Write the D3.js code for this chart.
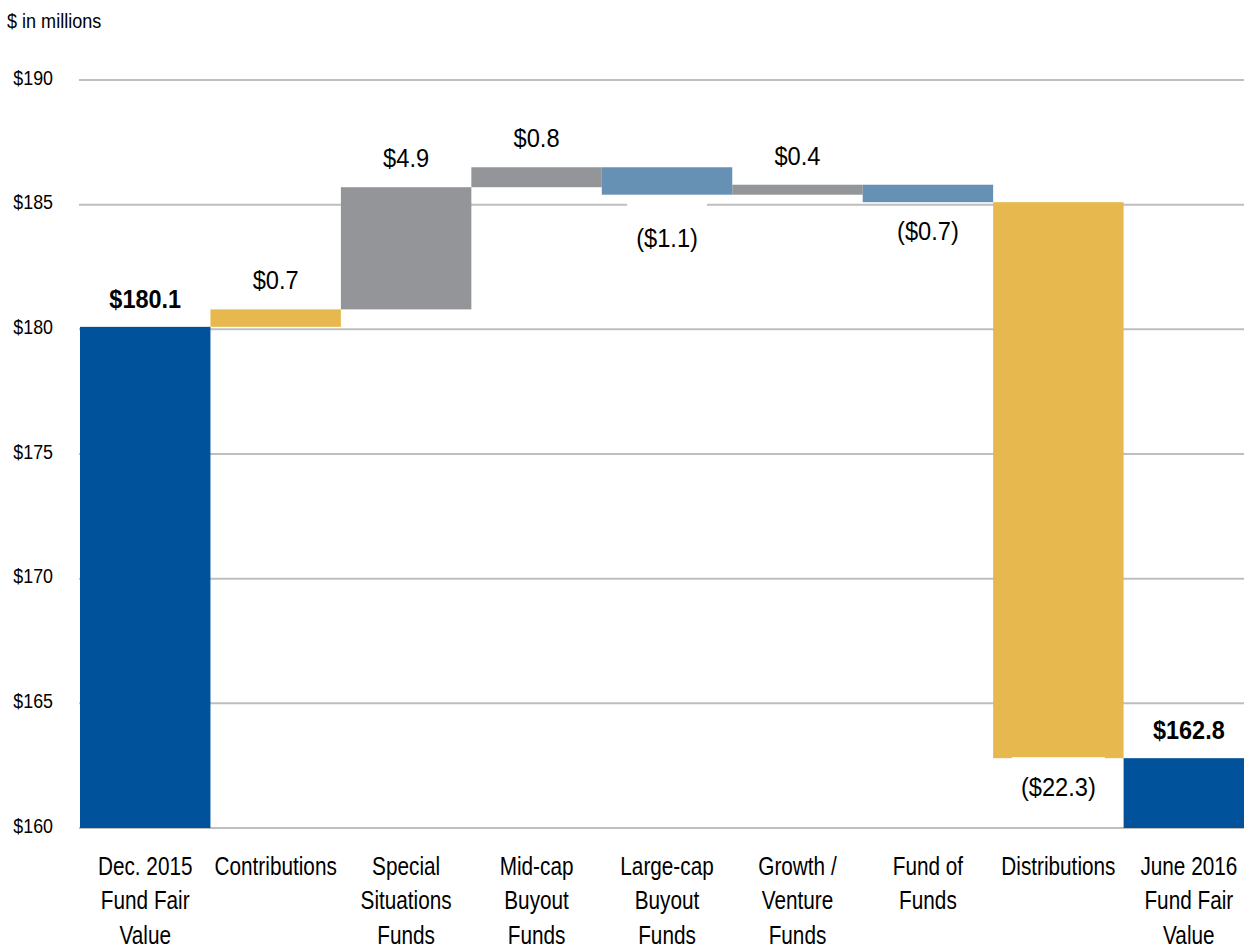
<!DOCTYPE html>
<html>
<head>
<meta charset="utf-8">
<script src="https://cdn.jsdelivr.net/npm/d3@7"></script>
<style>
  html, body { margin: 0; padding: 0; background: #fff; }
  svg { display: block; }
  text { font-family: "Liberation Sans", Arial, sans-serif; fill: #000; }
</style>
</head>
<body>
<svg id="chart" width="1244" height="948"></svg>
<script>
// ---- data ----
const categories = [
  ["Dec. 2015", "Fund Fair", "Value"],
  ["Contributions"],
  ["Special", "Situations", "Funds"],
  ["Mid-cap", "Buyout", "Funds"],
  ["Large-cap", "Buyout", "Funds"],
  ["Growth /", "Venture", "Funds"],
  ["Fund of", "Funds"],
  ["Distributions"],
  ["June 2016", "Fund Fair", "Value"]
];
const changes = [180.1, 0.7, 4.9, 0.8, -1.1, 0.4, -0.7, -22.3, 162.8];
const barKinds = ["total", "flow", "gain", "gain", "loss", "gain", "loss", "flow", "total"];
const valueLabels = ["$180.1", "$0.7", "$4.9", "$0.8", "($1.1)", "$0.4", "($0.7)", "($22.3)", "$162.8"];
const yTicks = [160, 165, 170, 175, 180, 185, 190];
const yTickLabels = ["$160", "$165", "$170", "$175", "$180", "$185", "$190"];
const unitLabel = "$ in millions";

// ---- styles ----
const colors = { total: "#00529B", flow: "#E6B84E", gain: "#939598", loss: "#6690B4" };

// condensed text helper (narrow face emulated via horizontal scale)
function ctext(parent, cx, cy, s, size, anchor, weight) {
  return parent.append("text")
    .attr("transform", `translate(${cx},${cy}) scale(${s},1)`)
    .attr("x", 0).attr("y", 0)
    .attr("text-anchor", anchor)
    .attr("font-size", size)
    .attr("font-weight", weight || "normal");
}

// ---- build waterfall ----
let running = 0;
const bars = changes.map((v, i) => {
  let lo, hi;
  if (barKinds[i] === "total") { lo = 160; hi = v; running = v; }
  else { const start = running; running = +(running + v).toFixed(2); lo = Math.min(start, running); hi = Math.max(start, running); }
  return { i, key: categories[i].join(" "), lines: categories[i], v, lo, hi, kind: barKinds[i], label: valueLabels[i] };
});

const svg = d3.select("#chart");
const x = d3.scaleBand().domain(bars.map(d => d.key)).range([80, 80 + 9 * 130.45]).padding(0);
const y = d3.scaleLinear().domain([160, 190]).range([828, 80]);

// gridlines
svg.append("g").selectAll("line").data(yTicks).join("line")
  .attr("x1", 79).attr("x2", 1244)
  .attr("y1", d => y(d)).attr("y2", d => y(d))
  .attr("stroke", "#BEBEBE").attr("stroke-width", 2);

// y tick labels
const tg = svg.append("g");
yTicks.forEach((d, i) => {
  ctext(tg, 53, y(d) - 3, 0.85, 21, "end").attr("dominant-baseline", "central").text(yTickLabels[i]);
});

ctext(svg, 7, 20, 0.86, 21, "start").attr("dominant-baseline", "central").text(unitLabel);

// bars
svg.append("g").selectAll("rect").data(bars).join("rect")
  .attr("x", d => x(d.key)).attr("width", x.bandwidth())
  .attr("y", d => y(d.hi)).attr("height", d => y(d.lo) - y(d.hi))
  .attr("fill", d => colors[d.kind]);

// value labels
const lg = svg.append("g");
bars.forEach(d => {
  const cx = x(d.key) + x.bandwidth() / 2;
  const neg = d.v < 0;
  const total = d.kind === "total";
  let cy;
  if (neg) cy = y(d.lo) + (d.i === 4 ? 43 : 29);
  else cy = y(d.hi) - (total ? 28 : 29);
  const s = total ? 0.92 : 0.91;
  const t = ctext(lg, cx, cy, s, total ? 25.5 : 26, "middle", total ? "bold" : "normal")
    .attr("dominant-baseline", "central")
    .text(d.label);
  if (neg) {
    const bb = t.node().getBBox();
    const w = bb.width * s + 18;
    const up = d.i === 4 ? 36 : (d.i === 6 ? 22 : 30);
    lg.insert("rect", () => t.node())
      .attr("x", cx - w / 2).attr("width", w)
      .attr("y", cy - up).attr("height", up + 20)
      .attr("fill", "#fff");
  }
});

// category labels
const cg = svg.append("g");
bars.forEach(d => {
  const t = ctext(cg, x(d.key) + x.bandwidth() / 2, 875, 0.83, 25, "middle");
  d.lines.forEach((ln, j) => {
    t.append("tspan").attr("x", 0).attr("dy", j === 0 ? 0 : 34.5).text(ln);
  });
});
</script>
</body>
</html>
